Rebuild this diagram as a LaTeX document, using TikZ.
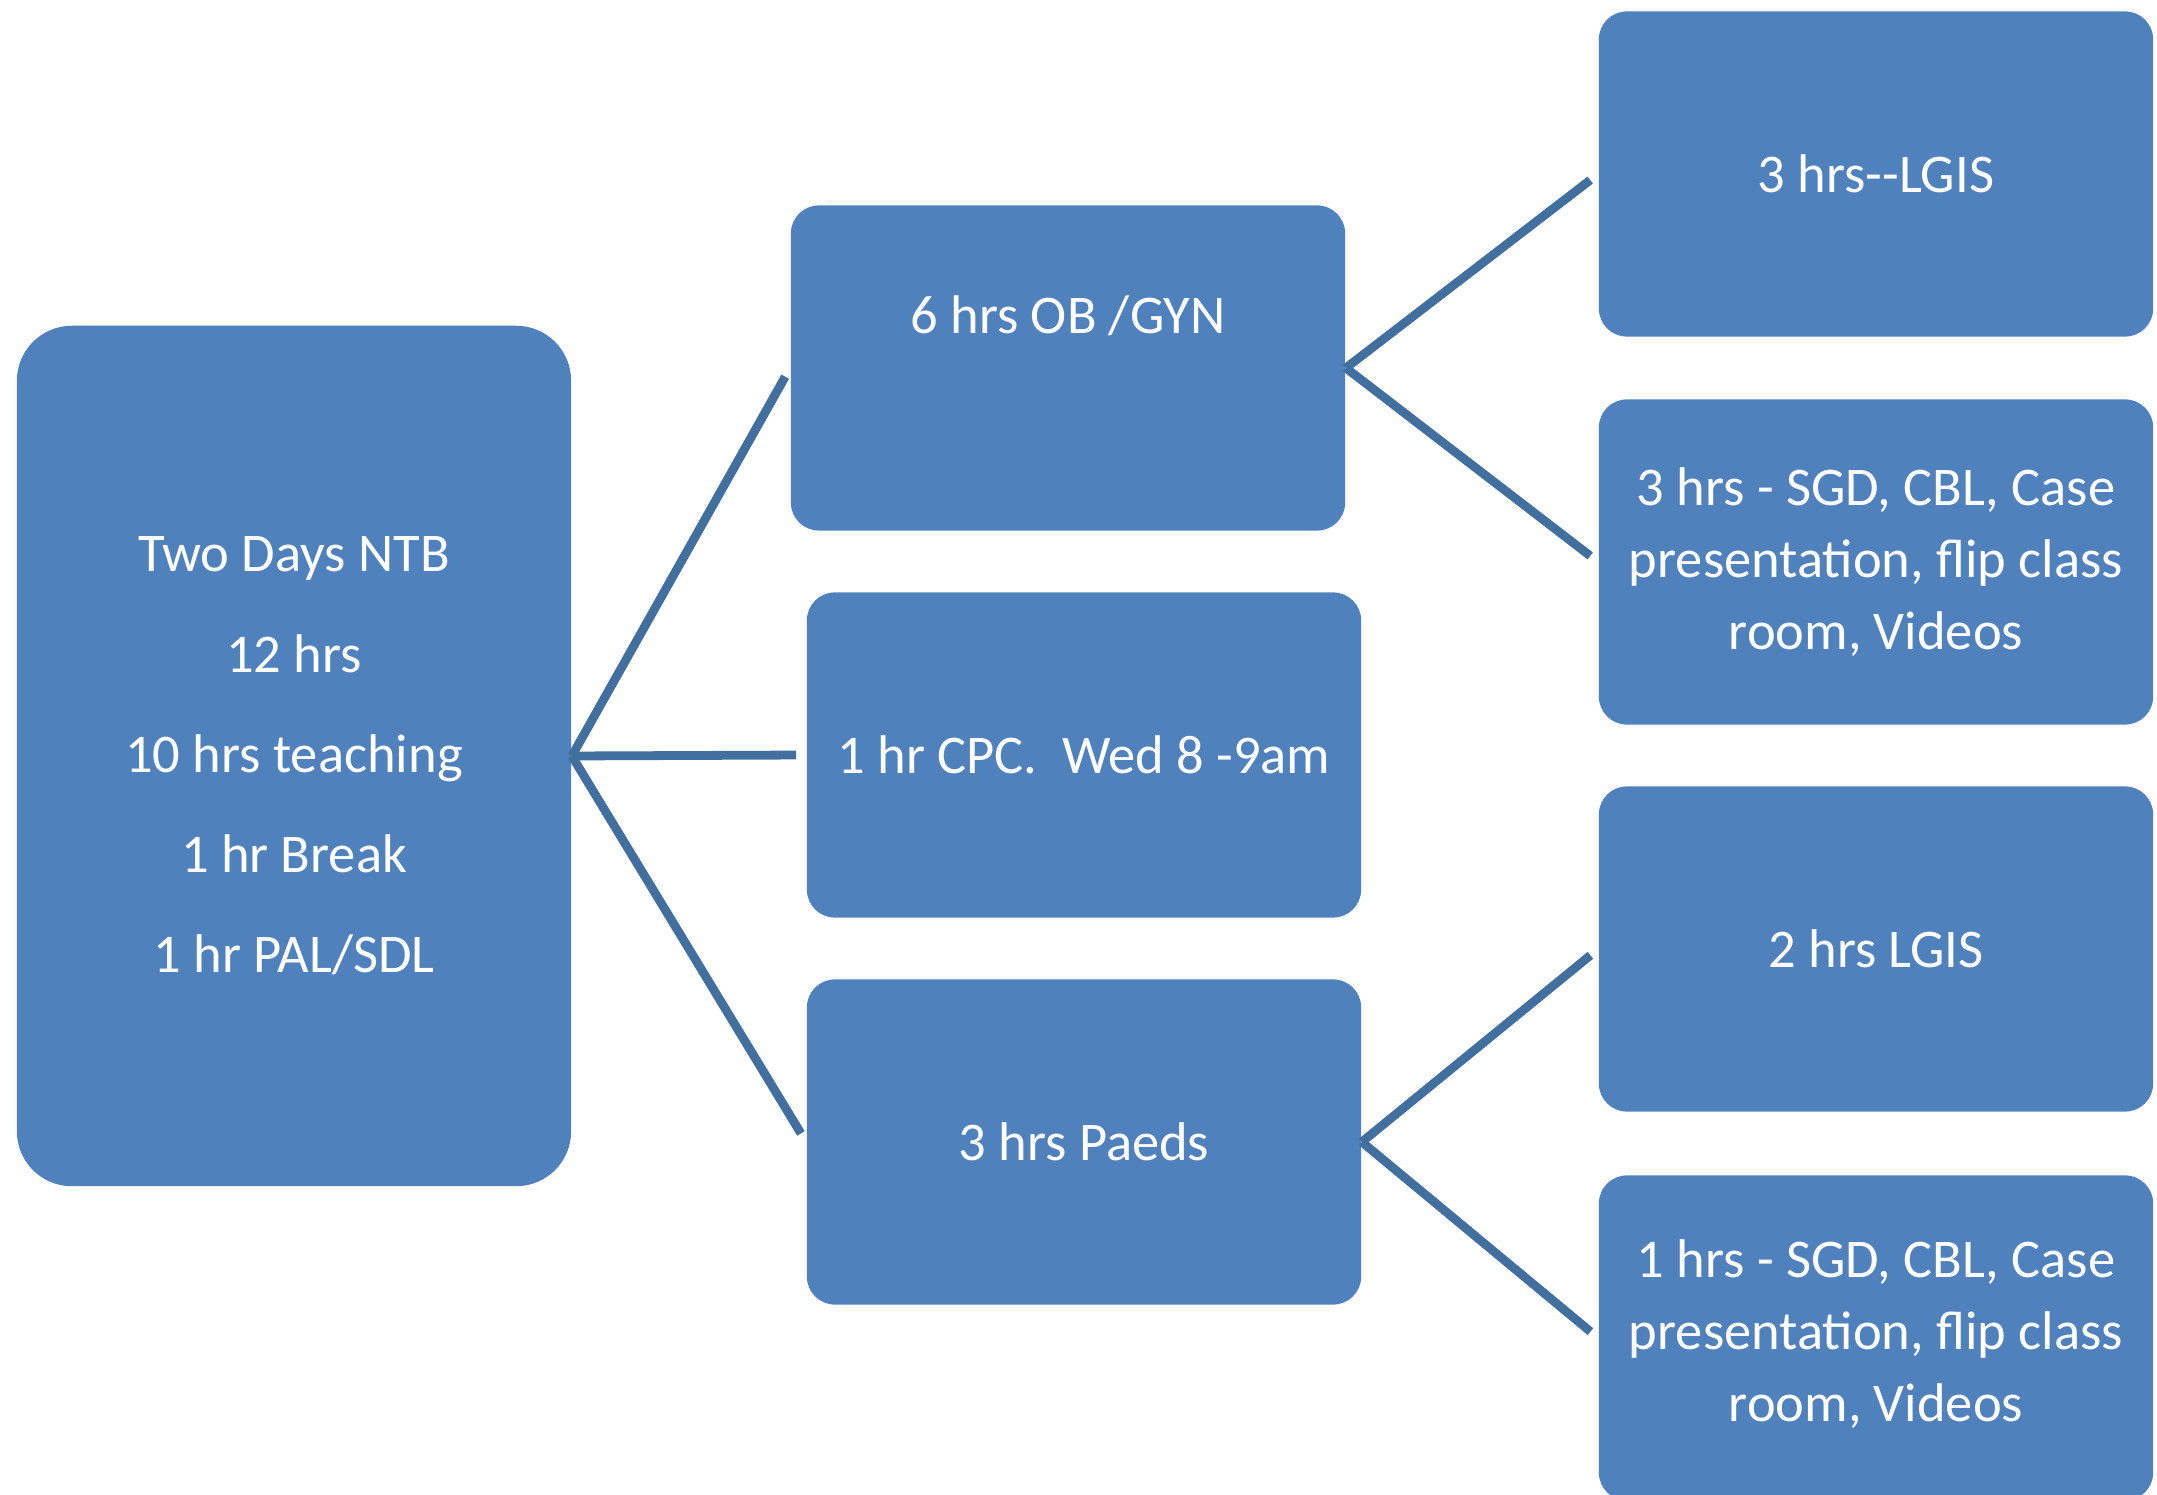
\documentclass[tikz,border=0pt]{standalone}
\usepackage{fontspec}
\setmainfont{Carlito}
\usepackage{tikz}
\usetikzlibrary{positioning}
\definecolor{boxblue}{HTML}{4F81BD}
\definecolor{linkblue}{HTML}{41709F}
\tikzset{
  block/.style = {
    rectangle,
    rounded corners = 0.28cm,
    fill = boxblue,
    minimum width = 5.54cm,
    minimum height = 3.25cm,
    inner sep = 0pt
  },
  hub/.style = {
    block,
    rounded corners = 0.55cm,
    minimum height = 8.6cm
  },
  txt/.style = {
    text = white,
    align = center,
    font = \fontsize{15.5}{20.5}\selectfont
  },
  wide/.style = {
    txt,
    font = \fontsize{15.5}{28.5}\selectfont
  },
  link/.style = {
    draw = linkblue,
    line width = 2.5pt,
    shorten >= 0.1cm
  }
}

\begin{document}
\begin{tikzpicture}[x = 0.01cm, y = -0.01cm]
  \useasboundingbox (0,0) rectangle (2157,1495);

  % left column
  \node[hub] (root) at (294,756) {};
  \node[wide] (roottxt) at (root) {Two Days NTB\\12 hrs\\10 hrs teaching\\1 hr Break\\1 hr PAL/SDL};

  % middle column
  \node[block] (ob) at (1068,368) {};
  \node[txt] (obtxt) at ([yshift=0.52cm]ob.center) {6 hrs OB /GYN};
  \node[block] (cpc) at (1084,755) {};
  \node[txt] (cpctxt) at (cpc) {1 hr CPC.\ \ Wed 8 -9am};
  \node[block] (paeds) at (1084,1142) {};
  \node[txt] (paedstxt) at (paeds) {3 hrs Paeds};

  % right column
  \node[block] (lgisa) at (1876,174) {};
  \node[txt] (lgisatxt) at (lgisa) {3 hrs-{}-LGIS};
  \node[block] (sgda) at (1876,562) {};
  \node[txt] (sgdatxt) at (sgda) {3 hrs - SGD, CBL, Case\\presentation, flip class\\room, Videos};
  \node[block] (lgisb) at (1876,949) {};
  \node[txt] (lgisbtxt) at (lgisb) {2 hrs LGIS};
  \node[block] (sgdb) at (1876,1338) {};
  \node[txt] (sgdbtxt) at ([yshift=0.04cm]sgdb.center) {1 hrs - SGD, CBL, Case\\presentation, flip class\\room, Videos};

  % connectors
  \draw[link] (root.east) -- (ob.west);
  \draw[link] (root.east) -- (cpc.west);
  \draw[link] (root.east) -- (paeds.west);
  \draw[link] (ob.east) -- (lgisa.west);
  \draw[link] (ob.east) -- (sgda.west);
  \draw[link] (paeds.east) -- (lgisb.west);
  \draw[link] (paeds.east) -- (sgdb.west);
\end{tikzpicture}
\end{document}
